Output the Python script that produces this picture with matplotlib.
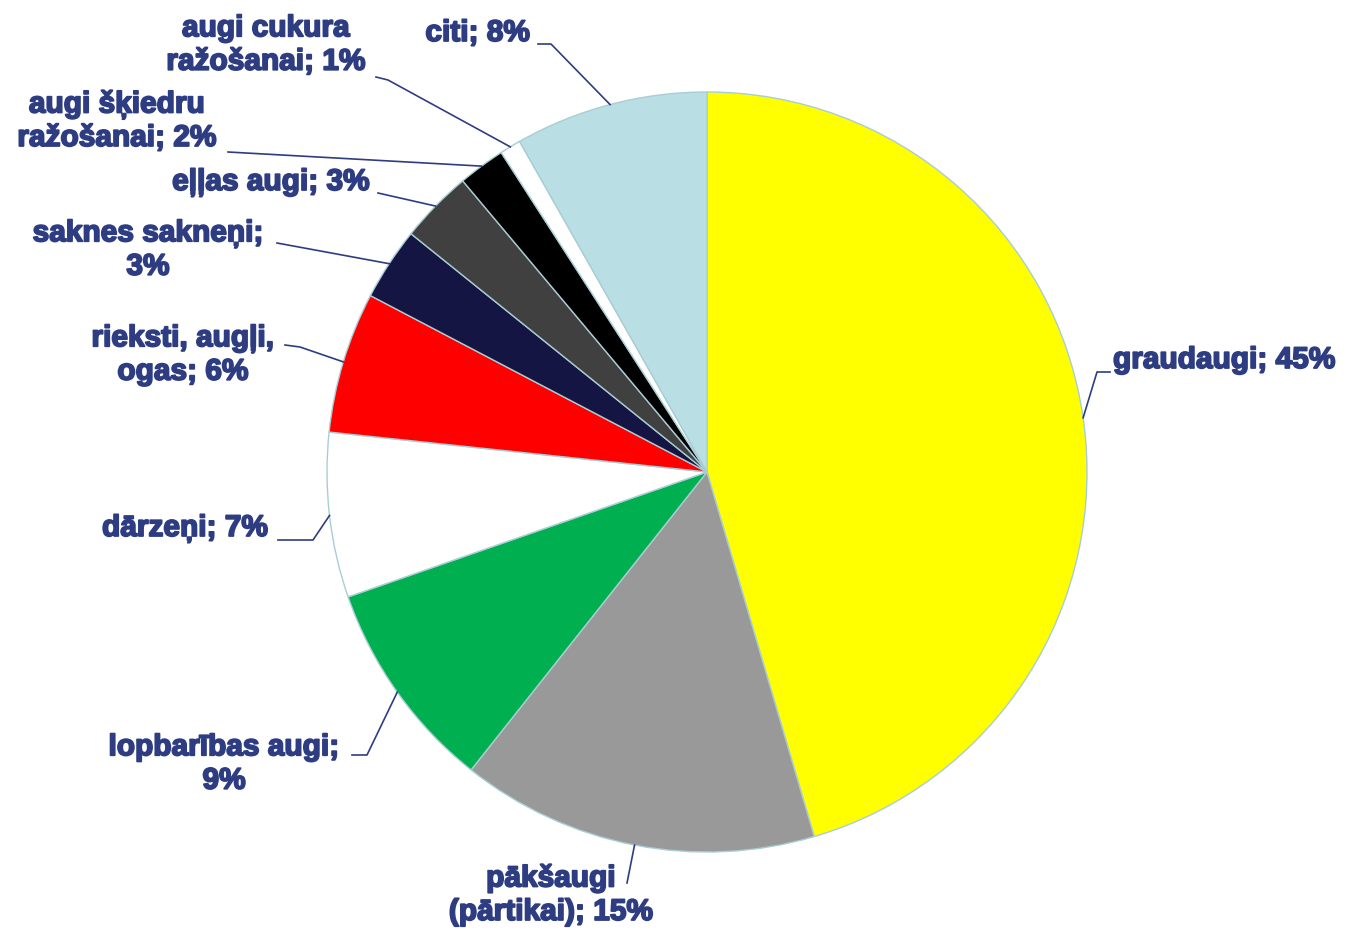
import numpy as np
import matplotlib.pyplot as plt
import matplotlib.patheffects as pe

labels = ['graudaugi', 'pākšaugi\n(pārtikai)', 'lopbarības augi;\n', 'dārzeņi',
          'rieksti, augļi,\nogas', 'saknes sakneņi;\n', 'eļļas augi',
          'augi šķiedru\nražošanai', 'augi cukura\nražošanai', 'citi']
values = [45.4, 15.2, 9.0, 7.0, 6.0, 3.1, 3.1, 2.0, 0.9, 8.2]
pct_text = ['45%', '15%', '9%', '7%', '6%', '3%', '3%', '2%', '1%', '8%']
colors = ['#FFFF00', '#999999', '#00B050', '#FFFFFF', '#FF0000',
          '#151543', '#404040', '#000000', '#FFFFFF', '#B9DFE4']

W, H = 1351, 931
CX, CY, R = 707, 472, 380
TXT = '#2E3D82'


def px(x, y):
    # pixel -> data coords (pie radius = 1)
    return (x - CX) / R, (CY - y) / R


# text placement (pixel centre / anchor), elbow and line start next to label
lab_pos = [
    ((1113, 360), 'left', (1097, 372), (1110, 372)),
    ((551, 895), 'center', (627, 883), (627, 883)),
    ((224, 764), 'center', (367, 755), (352, 755)),
    ((268, 528), 'right', (313, 540), (278, 540)),
    ((183, 355), 'center', (300, 347), (285, 345)),
    ((148, 250), 'center', (277, 243), (277, 243)),
    ((370, 182), 'right', (378, 193), (378, 193)),
    ((117, 121), 'center', (228, 152), (228, 152)),
    ((266, 45), 'center', (388, 80), (376, 77)),
    ((530, 33), 'right', (551, 44), (538, 44)),
]

fig = plt.figure(figsize=(W / 100, H / 100), dpi=100)
ax = fig.add_axes([0, 0, 1, 1])

wedges, _ = ax.pie(values, colors=colors, startangle=90, counterclock=False,
                   radius=1.0, center=(0, 0), frame=True,
                   wedgeprops=dict(edgecolor='#A9CDD4', linewidth=1.0))
ax.set_xlim(-CX / R, (W - CX) / R)
ax.set_ylim(-(H - CY) / R, CY / R)
ax.axis('off')

for i, w in enumerate(wedges):
    mid = np.deg2rad((w.theta1 + w.theta2) / 2)
    p0 = (np.cos(mid), np.sin(mid))
    (tx, ty), ha, elbow, start = lab_pos[i]
    e = px(*elbow)
    s = px(*start)
    ax.plot([p0[0], e[0], s[0]], [p0[1], e[1], s[1]], color=TXT, lw=1.2)
    lab = labels[i]
    if lab.endswith('\n'):
        txt = lab + pct_text[i]
    else:
        txt = lab + '; ' + pct_text[i]
    x, y = px(tx, ty)
    ax.text(x, y, txt, ha=ha, va='center', multialignment='center',
            fontsize=21.5, fontweight='bold', color=TXT,
            family='Liberation Sans', linespacing=1.25,
            path_effects=[pe.withStroke(linewidth=1.3, foreground=TXT)])

fig.savefig('out.png', dpi=100)
